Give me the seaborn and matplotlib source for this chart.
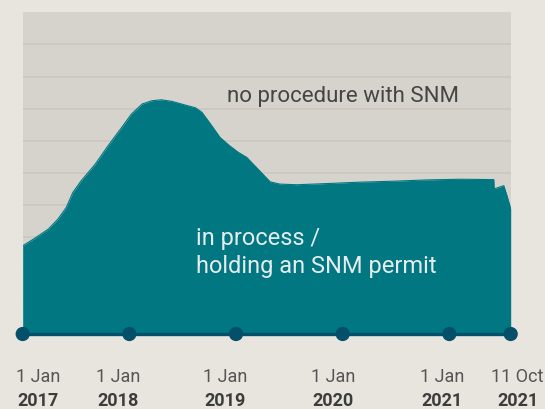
import matplotlib
matplotlib.use("Agg")
import matplotlib.pyplot as plt
import pandas as pd
import seaborn as sns

# share (%) of people in process / holding an SNM permit
years = [2017.00, 2017.11, 2017.24, 2017.33, 2017.41, 2017.47, 2017.55, 2017.68,
         2017.80, 2017.93, 2018.02, 2018.12, 2018.21, 2018.30, 2018.40, 2018.52,
         2018.62, 2018.68, 2018.76, 2018.85, 2018.94, 2019.02, 2019.10, 2019.19,
         2019.32, 2019.41, 2019.57, 2019.73, 2019.88, 2020.16, 2020.48, 2020.79,
         2021.10, 2021.416, 2021.42, 2021.51, 2021.54, 2021.575]
share = [27.4, 29.7, 32.6, 35.7, 39.4, 44.0, 47.7, 52.8,
         58.5, 64.3, 68.4, 71.5, 72.5, 72.8, 72.3, 71.2,
         70.3, 68.9, 65.3, 61.1, 58.5, 56.5, 54.9, 51.8,
         47.3, 46.6, 46.4, 46.6, 46.8, 47.2, 47.5, 47.9,
         48.1, 48.0, 45.1, 46.1, 43.0, 38.9]

tick_pos = [2017.0, 2018.0, 2019.0, 2020.0, 2021.0, 2021.575]
tick_days = ["1 Jan", "1 Jan", "1 Jan", "1 Jan", "1 Jan", "11 Oct"]
tick_years = ["2017", "2018", "2019", "2020", "2021", "2021"]
label_top = "no procedure with SNM"
label_bottom = "in process /\nholding an SNM permit"

BG = "#E8E5DF"
PANEL = "#D6D3CC"
GRID = "#CFC7C2"
TEAL = "#017782"
DARK = "#04506A"

sns.set_theme(style="white")
plt.rcParams["font.family"] = ["Roboto", "DejaVu Sans"]

df = pd.DataFrame({"year": years, "share": share})

fig = plt.figure(figsize=(5.45, 4.1), dpi=100, facecolor=BG)
ax = fig.add_axes([22.7 / 545, 75 / 410, 488 / 545, 321.7 / 410])
ax.set_facecolor(PANEL)

# horizontal grid, hidden behind the area
ax.set_yticks(range(10, 100, 10))
ax.grid(axis="y", color=GRID, lw=1.4)
ax.set_axisbelow(True)

ax.fill_between(df["year"], 0, df["share"], color=TEAL, lw=0, zorder=2)
sns.lineplot(data=df, x="year", y="share", color=TEAL, lw=0.8, ax=ax, zorder=2)

# timeline with dots
ax.axhline(0, color=DARK, lw=2.4, clip_on=False, zorder=3)
sns.scatterplot(x=tick_pos, y=[0] * len(tick_pos), s=105, color=DARK,
                edgecolor="none", clip_on=False, zorder=4, ax=ax)

ax.set_xlim(2017.0, 2021.575)
ax.set_ylim(0, 100)
ax.set_xticks([])
ax.tick_params(left=False, labelleft=False)
ax.set_xlabel("")
ax.set_ylabel("")
sns.despine(ax=ax, left=True, bottom=True)

ax.text(2018.918, 72.5, label_top, color="#454545", fontsize=16,
        ha="left", va="baseline")
# baseline of a multi-line text sits on the last line
ax.text(2018.62, 19.2, label_bottom, color="#E6ECEC", fontsize=17,
        ha="left", va="baseline", linespacing=1.3)

shift = [15, -11, -11, -10, -7, 7]
for x, d, y, dx in zip(tick_pos, tick_days, tick_years, shift):
    ax.annotate(d, xy=(x, 0), xytext=(dx, -47.5), textcoords="offset pixels",
                ha="center", va="baseline", fontsize=13, color="#555555",
                annotation_clip=False)
    ax.annotate(y, xy=(x, 0), xytext=(dx, -71), textcoords="offset pixels",
                ha="center", va="baseline", fontsize=13, fontweight="bold",
                color="#3C3C3C", annotation_clip=False)

fig.savefig("out.png", dpi=100, facecolor=BG)
